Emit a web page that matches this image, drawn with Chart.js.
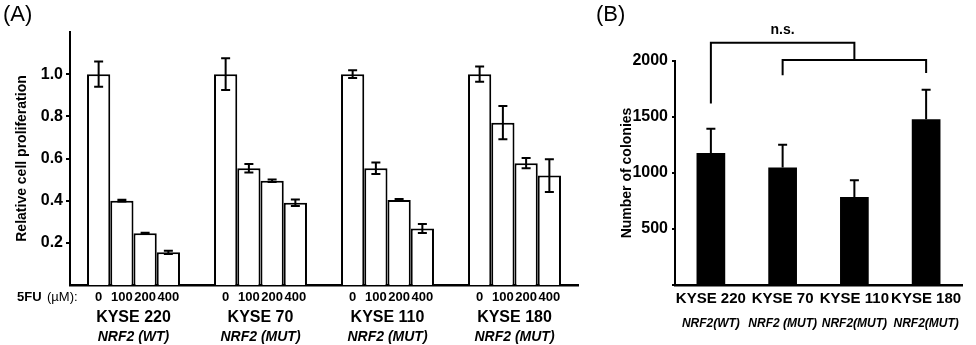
<!DOCTYPE html>
<html>
<head>
<meta charset="utf-8">
<script src="https://cdn.jsdelivr.net/npm/chart.js@4.4.0/dist/chart.umd.min.js"></script>
<style>
  body { margin: 0; background: #fff; }
  #wrap { position: relative; width: 976px; height: 345px; font-family: 'Liberation Sans', Arial, sans-serif; }
  .panel { position: absolute; top: 0; height: 345px; }
  #boxA { left: 0; width: 590px; }
  #boxB { left: 590px; width: 386px; }
  .tag { position: absolute; top: 1px; font-size: 22px; color: #000; }
</style>
</head>
<body>
<div id="wrap">
  <div class="panel" id="boxA"><canvas id="chartA"></canvas></div>
  <div class="panel" id="boxB"><canvas id="chartB"></canvas></div>
  <div class="tag" style="left:3px">(A)</div>
  <div class="tag" style="left:596px">(B)</div>
</div>
<script>
// Panel A: relative proliferation after 5FU
const cellLines = ['KYSE 220', 'KYSE 70', 'KYSE 110', 'KYSE 180'];
const genotypesA = ['NRF2 (WT)', 'NRF2 (MUT)', 'NRF2 (MUT)', 'NRF2 (MUT)'];
const doses = ['0', '100', '200', '400'];
const yTicksA = [0.2, 0.4, 0.6, 0.8, 1.0];

const prolif220 = [1.0, 0.40, 0.245, 0.155];
const prolif70 = [1.0, 0.554, 0.494, 0.39];
const prolif110 = [1.0, 0.554, 0.403, 0.268];
const prolif180 = [1.0, 0.77, 0.578, 0.519];
const err220 = [0.06, 0.004, 0.003, 0.008];
const err70 = [0.075, 0.02, 0.006, 0.015];
const err110 = [0.018, 0.027, 0.005, 0.021];
const err180 = [0.036, 0.079, 0.024, 0.078];

// Panel B: colony counts
const genotypesB = ['NRF2(WT)', 'NRF2 (MUT)', 'NRF2(MUT)', 'NRF2(MUT)'];
const colonies = [1178, 1048, 786, 1480];
const coloniesErr = [218, 205, 150, 263];
const yTicksB = [0, 500, 1000, 1500, 2000];

// significance brackets (values in colony units)
const innerBracket = { left: 1, right: 3, level: 2010, legs: [1872, 1893] };
const outerBracket = { left: 0, level: 2164, leg: 1620 };
const nsLabel = { text: 'n.s.', level: 2274 };

const FONT = "'Liberation Sans', Arial, Helvetica, sans-serif";
Chart.defaults.font.family = FONT;
Chart.defaults.color = '#000';

const prolifRows = [prolif220, prolif70, prolif110, prolif180];
const errRows = [err220, err70, err110, err180];

// error bars drawn from the bar elements and the y scale
function errorBarPlugin(id, errors, upOnly) {
    return {
        id: id,
        afterDatasetsDraw(chart) {
            const ctx = chart.ctx;
            const y = chart.scales.y;
            ctx.save();
            ctx.strokeStyle = '#000';
            ctx.lineWidth = 2;
            chart.data.datasets.forEach((ds, d) => {
                chart.getDatasetMeta(d).data.forEach((bar, i) => {
                    const v = ds.data[i];
                    const e = errors[d][i];
                    const top = y.getPixelForValue(v + e);
                    const bot = upOnly ? y.getPixelForValue(v) : y.getPixelForValue(v - e);
                    ctx.beginPath();
                    ctx.moveTo(bar.x, top);
                    ctx.lineTo(bar.x, bot);
                    ctx.moveTo(bar.x - 4.5, top);
                    ctx.lineTo(bar.x + 4.5, top);
                    if (!upOnly) {
                        ctx.moveTo(bar.x - 4.5, bot);
                        ctx.lineTo(bar.x + 4.5, bot);
                    }
                    ctx.stroke();
                });
            });
            ctx.restore();
        }
    };
}

// dose labels under every bar of panel A
const doseLabels = {
    id: 'doseLabels',
    afterDraw(chart) {
        const ctx = chart.ctx;
        const yPos = chart.chartArea.bottom + 12;
        ctx.save();
        ctx.fillStyle = '#000';
        ctx.textBaseline = 'middle';
        ctx.textAlign = 'center';
        ctx.font = 'bold 13px ' + FONT;
        chart.data.datasets.forEach((ds, d) => {
            chart.getDatasetMeta(d).data.forEach(bar => {
                ctx.fillText(doses[d], bar.x, yPos);
            });
        });
        ctx.textAlign = 'left';
        ctx.fillText('5FU', 17, yPos);
        ctx.font = '13px ' + FONT;
        ctx.fillText('(\u00B5M):', 47, yPos);
        ctx.restore();
    }
};

// brackets above panel B
const brackets = {
    id: 'brackets',
    afterDraw(chart) {
        const ctx = chart.ctx;
        const x = chart.scales.x;
        const y = chart.scales.y;
        const iL = x.getPixelForValue(innerBracket.left);
        const iR = x.getPixelForValue(innerBracket.right);
        const iY = y.getPixelForValue(innerBracket.level);
        const iMid = (iL + iR) / 2;
        const oL = x.getPixelForValue(outerBracket.left);
        const oY = y.getPixelForValue(outerBracket.level);
        ctx.save();
        ctx.strokeStyle = '#000';
        ctx.lineWidth = 2;
        ctx.beginPath();
        ctx.moveTo(iL, y.getPixelForValue(innerBracket.legs[0]));
        ctx.lineTo(iL, iY);
        ctx.lineTo(iR, iY);
        ctx.lineTo(iR, y.getPixelForValue(innerBracket.legs[1]));
        ctx.moveTo(oL, y.getPixelForValue(outerBracket.leg));
        ctx.lineTo(oL, oY);
        ctx.lineTo(iMid, oY);
        ctx.lineTo(iMid, iY);
        ctx.stroke();
        ctx.fillStyle = '#000';
        ctx.font = 'bold 14px ' + FONT;
        ctx.textAlign = 'center';
        ctx.textBaseline = 'middle';
        ctx.fillText(nsLabel.text, (oL + iMid) / 2, y.getPixelForValue(nsLabel.level));
        ctx.restore();
    }
};

const flatTicks = { maxRotation: 0, minRotation: 0, autoSkip: false };
const errA = doses.map((_, i) => errRows.map(r => r[i]));

new Chart(document.getElementById('chartA'), {
    type: 'bar',
    data: {
        labels: cellLines,
        datasets: doses.map((d, i) => ({
            label: d,
            data: prolifRows.map(r => r[i]),
            backgroundColor: '#fff',
            borderColor: '#000',
            borderWidth: 2,
            categoryPercentage: 0.732,
            barPercentage: 1
        }))
    },
    options: {
        responsive: true,
        maintainAspectRatio: false,
        animation: false,
        layout: { padding: { top: 32, right: 12, bottom: 0, left: 0 } },
        plugins: { legend: { display: false }, tooltip: { enabled: false } },
        scales: {
            x: {
                weight: 0,
                grid: { display: false, drawTicks: false },
                border: { color: '#000', width: 2.5 },
                ticks: { ...flatTicks, font: { size: 16, weight: 'bold' }, padding: 23 },
                afterFit: s => { s.height = 44; }
            },
            x2: {
                type: 'category',
                labels: genotypesA,
                position: 'bottom',
                weight: 1,
                offset: true,
                grid: { display: false, drawTicks: false },
                border: { display: false },
                ticks: { ...flatTicks, font: { size: 14, weight: 'bold', style: 'italic' }, padding: 0 },
                afterFit: s => { s.height = 16; }
            },
            y: {
                min: 0,
                max: 1.2,
                grid: { drawOnChartArea: false, color: '#000', tickLength: 4, lineWidth: 2 },
                border: { color: '#000', width: 2 },
                ticks: { font: { size: 16, weight: 'bold' }, padding: 3, callback: v => v.toFixed(1) },
                afterBuildTicks: s => { s.ticks = yTicksA.map(v => ({ value: v })); },
                title: {
                    display: true,
                    text: 'Relative cell proliferation',
                    font: { size: 14, weight: 'bold' },
                    padding: { top: 14, bottom: 0 }
                },
                afterFit: s => { s.width = 70; }
            }
        }
    },
    plugins: [errorBarPlugin('errA', errA, false), doseLabels]
});

new Chart(document.getElementById('chartB'), {
    type: 'bar',
    data: {
        labels: cellLines,
        datasets: [{
            label: 'Number of colonies',
            data: colonies,
            backgroundColor: '#000',
            borderWidth: 0,
            categoryPercentage: 1,
            barPercentage: 0.4
        }]
    },
    options: {
        responsive: true,
        maintainAspectRatio: false,
        animation: false,
        layout: { padding: { top: 61, right: 14, bottom: 0, left: 0 } },
        plugins: { legend: { display: false }, tooltip: { enabled: false } },
        scales: {
            x: {
                weight: 0,
                grid: { display: false, drawTicks: false },
                border: { color: '#000', width: 2.5 },
                ticks: { ...flatTicks, font: { size: 15, weight: 'bold' }, padding: 5 },
                afterFit: s => { s.height = 24; }
            },
            x2: {
                type: 'category',
                labels: genotypesB,
                position: 'bottom',
                weight: 1,
                offset: true,
                grid: { display: false, drawTicks: false },
                border: { display: false },
                ticks: { ...flatTicks, font: { size: 12, weight: 'bold', style: 'italic' }, padding: 7 },
                afterFit: s => { s.height = 36; }
            },
            y: {
                min: 0,
                max: 2000,
                grid: { drawOnChartArea: false, color: '#000', tickLength: 3, lineWidth: 2 },
                border: { color: '#000', width: 2 },
                ticks: { font: { size: 16, weight: 'bold' }, padding: 4, callback: v => (v === 0 ? '' : v) },
                afterBuildTicks: s => { s.ticks = yTicksB.map(v => ({ value: v })); },
                title: {
                    display: true,
                    text: 'Number of colonies',
                    font: { size: 14, weight: 'bold' },
                    padding: { top: 29, bottom: 0 }
                },
                afterFit: s => { s.width = 85; }
            }
        }
    },
    plugins: [errorBarPlugin('errB', [coloniesErr], true), brackets]
});
</script>
</body>
</html>
